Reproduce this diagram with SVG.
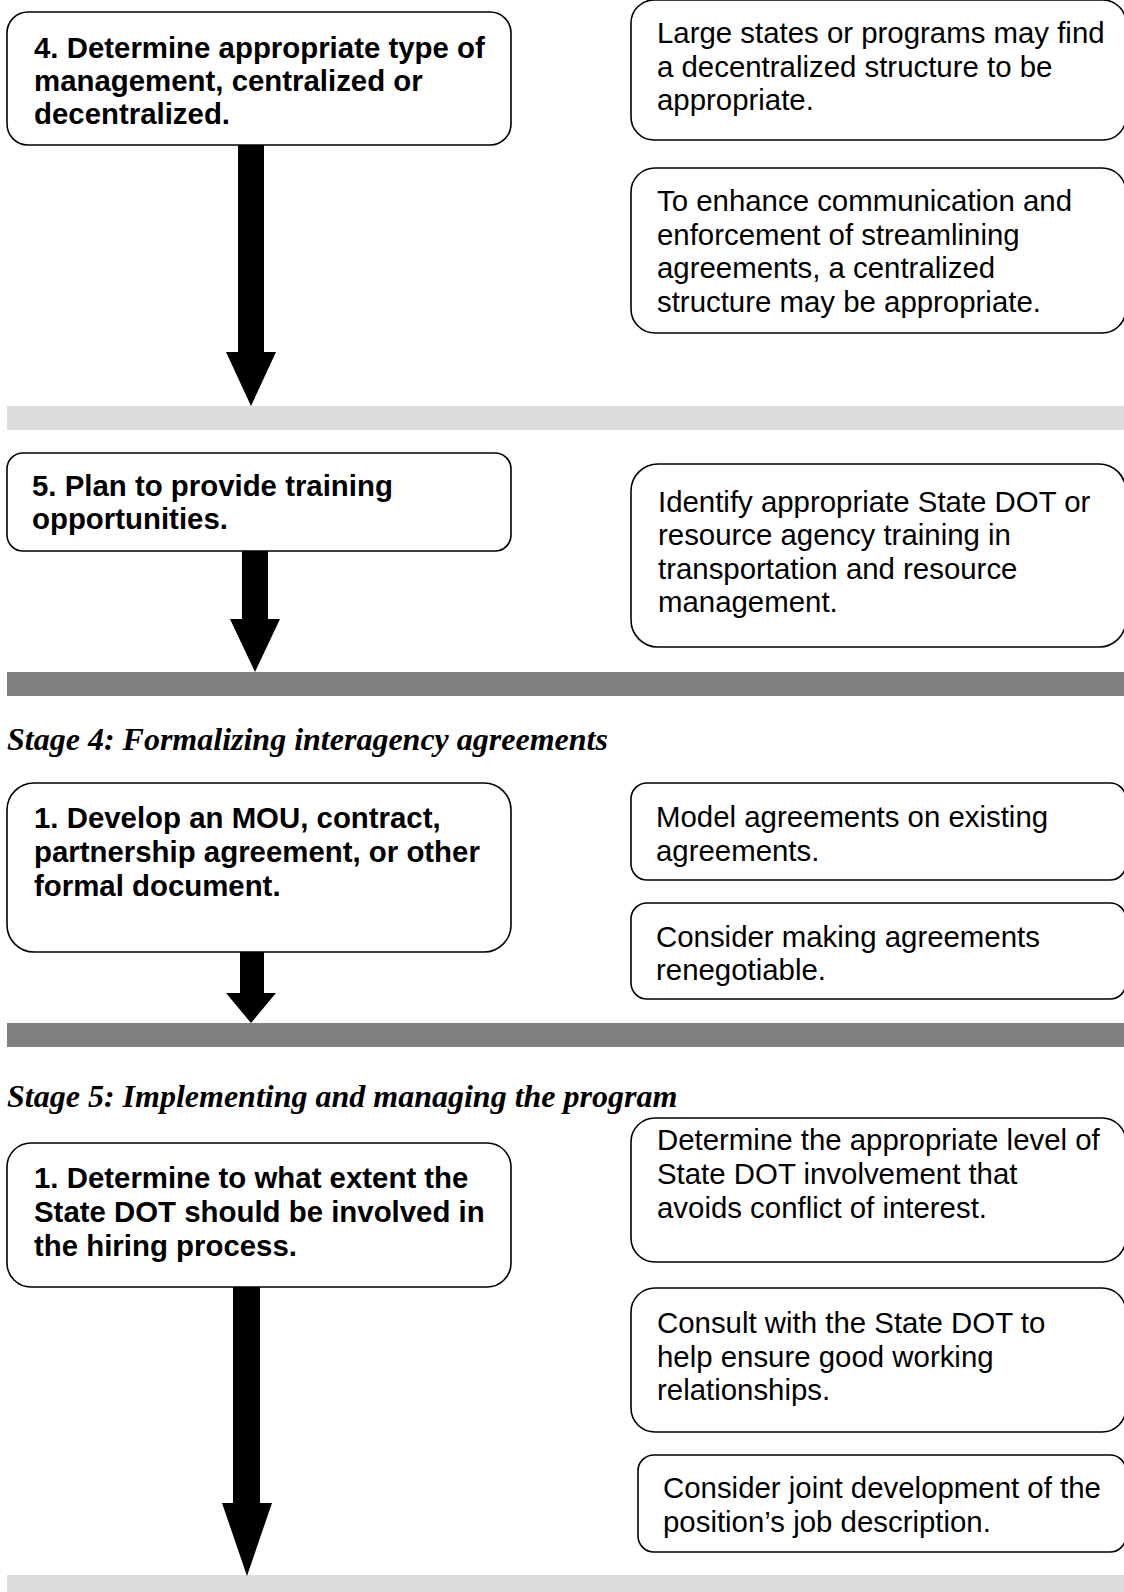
<svg xmlns="http://www.w3.org/2000/svg" width="1124" height="1592" viewBox="0 0 1124 1592">
  <style>
    .box { fill: #ffffff; stroke: #000000; stroke-width: 1.6; }
    .b { font-family: "Liberation Sans", Arial, sans-serif; font-weight: bold; font-size: 29.4px; fill: #000000; }
    .t { font-family: "Liberation Sans", Arial, sans-serif; font-size: 29.4px; fill: #000000; }
    .h { font-family: "Liberation Serif", "Times New Roman", serif; font-weight: bold; font-style: italic; font-size: 32px; fill: #000000; }
    .band-light { fill: #dddddd; }
    .band-dark { fill: #808080; }
    .arrow { fill: #000000; }
  </style>

  <rect x="0" y="0" width="1124" height="1592" fill="#ffffff"/>

  <!-- stage separator bands -->
  <g id="bands">
    <rect class="band-light" x="7" y="406" width="1117" height="24"/>
    <rect class="band-dark" x="7" y="672" width="1117" height="24"/>
    <rect class="band-dark" x="7" y="1023" width="1117" height="24"/>
    <rect class="band-light" x="7" y="1575" width="1117" height="17"/>
  </g>

  <!-- stage headings -->
  <text id="stage4-heading" class="h" x="7" y="750">Stage 4: Formalizing interagency agreements</text>
  <text id="stage5-heading" class="h" x="7" y="1107">Stage 5: Implementing and managing the program</text>

  <!-- block arrows from each step down to the next band -->
  <g id="connectors">
    <polygon class="arrow" points="238,145 264,145 264,352 276,352 251,406 226,352 238,352"/>
    <polygon class="arrow" points="242,551 268,551 268,619 280,619 255,672 230,619 242,619"/>
    <polygon class="arrow" points="240,952 264,952 264,993 276,993 251,1023 226,993 240,993"/>
    <polygon class="arrow" points="233,1287 260,1287 260,1503 272,1503 247,1576 222,1503 233,1503"/>
  </g>

  <!-- step 4: management type -->
  <g id="step4">
    <rect class="box" x="7" y="12" width="504" height="133" rx="21" ry="21"/>
    <text class="b" x="34" y="58">4. Determine appropriate type of</text>
    <text class="b" x="34" y="91">management, centralized or</text>
    <text class="b" x="34" y="124">decentralized.</text>
  </g>

  <g id="note-decentralized">
    <rect class="box" x="631" y="0" width="495" height="140" rx="23" ry="23"/>
    <text class="t" x="657" y="43">Large states or programs may find</text>
    <text class="t" x="657" y="77">a decentralized structure to be</text>
    <text class="t" x="657" y="110">appropriate.</text>
  </g>

  <g id="note-centralized">
    <rect class="box" x="631" y="168" width="495" height="165" rx="24" ry="24"/>
    <text class="t" x="657" y="211">To enhance communication and</text>
    <text class="t" x="657" y="245">enforcement of streamlining</text>
    <text class="t" x="657" y="278">agreements, a centralized</text>
    <text class="t" x="657" y="312">structure may be appropriate.</text>
  </g>

  <!-- step 5: training -->
  <g id="step5">
    <rect class="box" x="7" y="453" width="504" height="98" rx="16" ry="16"/>
    <text class="b" x="32" y="496">5. Plan to provide training</text>
    <text class="b" x="32" y="529">opportunities.</text>
  </g>

  <g id="note-training">
    <rect class="box" x="631" y="464" width="495" height="183" rx="27" ry="27"/>
    <text class="t" x="658" y="512">Identify appropriate State DOT or</text>
    <text class="t" x="658" y="545">resource agency training in</text>
    <text class="t" x="658" y="579">transportation and resource</text>
    <text class="t" x="658" y="612">management.</text>
  </g>

  <!-- stage 4 step 1: formal document -->
  <g id="stage4-step1">
    <rect class="box" x="7" y="783" width="504" height="169" rx="27" ry="27"/>
    <text class="b" x="34" y="828">1. Develop an MOU, contract,</text>
    <text class="b" x="34" y="862">partnership agreement, or other</text>
    <text class="b" x="34" y="896">formal document.</text>
  </g>

  <g id="note-model">
    <rect class="box" x="631" y="783" width="495" height="97" rx="16" ry="16"/>
    <text class="t" x="656" y="827">Model agreements on existing</text>
    <text class="t" x="656" y="861">agreements.</text>
  </g>

  <g id="note-renegotiable">
    <rect class="box" x="631" y="903" width="495" height="96" rx="16" ry="16"/>
    <text class="t" x="656" y="947">Consider making agreements</text>
    <text class="t" x="656" y="980">renegotiable.</text>
  </g>

  <!-- stage 5 step 1: hiring involvement -->
  <g id="stage5-step1">
    <rect class="box" x="7" y="1143" width="504" height="144" rx="24" ry="24"/>
    <text class="b" x="34" y="1188">1. Determine to what extent the</text>
    <text class="b" x="34" y="1222">State DOT should be involved in</text>
    <text class="b" x="34" y="1256">the hiring process.</text>
  </g>

  <g id="note-conflict">
    <rect class="box" x="631" y="1118" width="495" height="144" rx="24" ry="24"/>
    <text class="t" x="657" y="1150">Determine the appropriate level of</text>
    <text class="t" x="657" y="1184">State DOT involvement that</text>
    <text class="t" x="657" y="1218">avoids conflict of interest.</text>
  </g>

  <g id="note-consult">
    <rect class="box" x="631" y="1288" width="495" height="144" rx="24" ry="24"/>
    <text class="t" x="657" y="1333">Consult with the State DOT to</text>
    <text class="t" x="657" y="1367">help ensure good working</text>
    <text class="t" x="657" y="1400">relationships.</text>
  </g>

  <g id="note-job-description">
    <rect class="box" x="638" y="1455" width="488" height="97" rx="16" ry="16"/>
    <text class="t" x="663" y="1498">Consider joint development of the</text>
    <text class="t" x="663" y="1532">position’s job description.</text>
  </g>
</svg>
